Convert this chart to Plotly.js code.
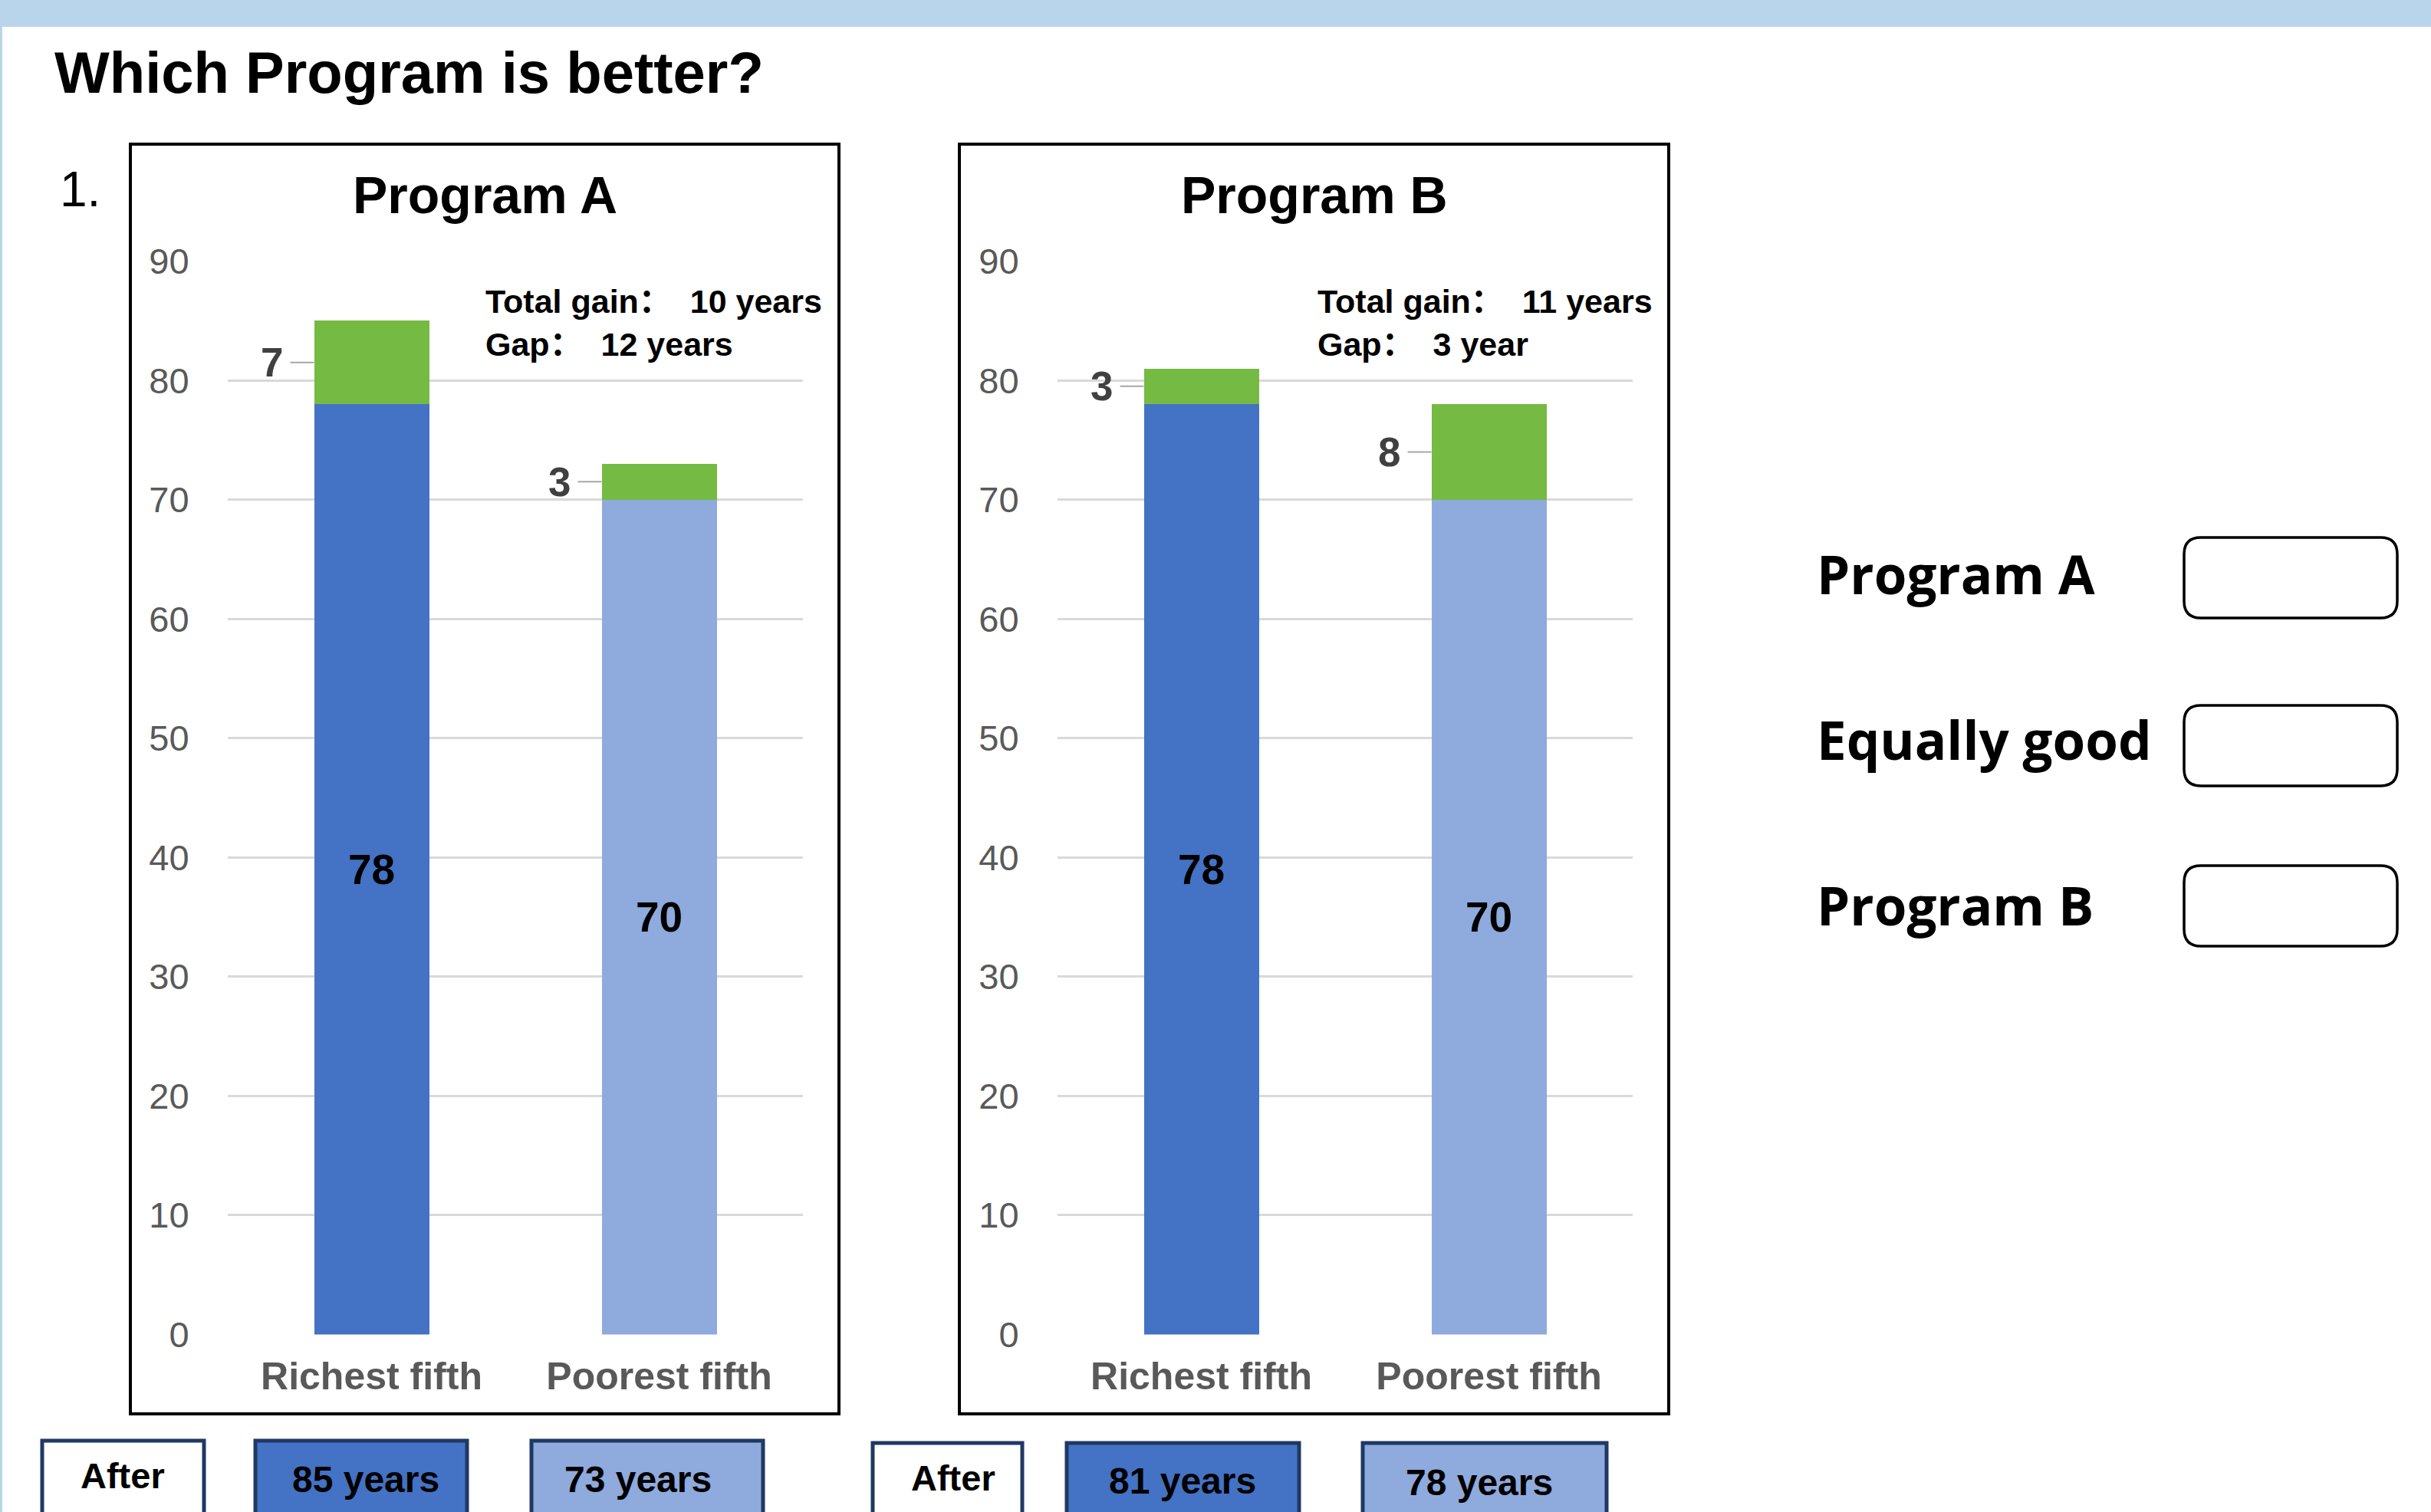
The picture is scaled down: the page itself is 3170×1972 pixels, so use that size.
<!DOCTYPE html>
<html>
<head>
<meta charset="utf-8">
<script src="https://cdn.plot.ly/plotly-3.0.1.min.js"></script>
<style>
  html, body { margin: 0; padding: 0; background: #ffffff; }
  #chart { width: 3170px; height: 1972px; }
</style>
</head>
<body>
<div id="chart"></div>
<script>
// ---------------- DATA ----------------
const categories = ["Richest fifth", "Poorest fifth"];
const programNames = ["Program A", "Program B"];
const progA_before = [78, 70];
const progA_gain = [7, 3];
const progB_before = [78, 70];
const progB_gain = [3, 8];
const progA_after = ["85 years", "73 years"];
const progB_after = ["81 years", "78 years"];
const progA_summary = ["Total gain：\u00a0\u00a010 years", "Gap：\u00a0\u00a012 years"];
const progB_summary = ["Total gain：\u00a0\u00a011 years", "Gap：\u00a0\u00a03 year"];
const choices = ["Program A", "Equally good", "Program B"];
const yTicks = [0, 10, 20, 30, 40, 50, 60, 70, 80, 90];

// ---------------- STYLE ----------------
const W = 3170, H = 1972;
const X = p => p / W;
const Y = p => 1 - p / H;
const DARK = "#4472C4", LIGHT = "#8FAADC", GREEN = "#75BA43";
const NAVY = "#1F3864";
const ARIAL = "Liberation Sans, Arial, Noto Sans CJK SC, sans-serif";
const SEGOE = "Open Sans, Noto Sans, sans-serif";

function barTraces(before, gain, xa, ya) {
  return [
    {
      type: "bar", x: categories, y: before, xaxis: xa, yaxis: ya,
      marker: { color: [DARK, LIGHT], line: { width: 0 } },
      text: before.map(String), textposition: "inside", insidetextanchor: "middle",
      textangle: 0, constraintext: "none",
      textfont: { family: ARIAL, size: 55, color: "#000000", weight: "bold" },
      hoverinfo: "none"
    },
    {
      type: "bar", x: categories, y: gain, xaxis: xa, yaxis: ya,
      marker: { color: GREEN, line: { width: 0 } },
      hoverinfo: "none"
    }
  ];
}

const data = [
  ...barTraces(progA_before, progA_gain, "x", "y"),
  ...barTraces(progB_before, progB_gain, "x2", "y2")
];

const yDomain = [Y(1740.5), Y(340.5)];
function yAxis() {
  return {
    domain: yDomain, range: [0, 90], tickvals: yTicks, ticktext: yTicks.map(String),
    showgrid: true, gridcolor: "#D9D9D9", gridwidth: 3, zeroline: false, showline: false,
    ticks: "outside", ticklen: 40, tickcolor: "rgba(0,0,0,0)",
    tickfont: { family: ARIAL, size: 47, color: "#595959" }, fixedrange: true
  };
}
function xAxis(d0, d1, anchor) {
  return {
    domain: [X(d0), X(d1)], anchor: anchor, type: "category",
    showgrid: false, zeroline: false, showline: false,
    ticks: "outside", ticklen: 10, tickcolor: "rgba(0,0,0,0)",
    tickfont: { family: ARIAL, size: 50, color: "#595959", weight: "bold" }, fixedrange: true
  };
}

// ---------------- SHAPES ----------------
function roundRect(x0, y0, x1, y1, r) {
  const rx = r, ry = r;
  return `M ${X(x0 + rx)} ${Y(y0)} L ${X(x1 - rx)} ${Y(y0)} Q ${X(x1)} ${Y(y0)} ${X(x1)} ${Y(y0 + ry)} ` +
         `L ${X(x1)} ${Y(y1 - ry)} Q ${X(x1)} ${Y(y1)} ${X(x1 - rx)} ${Y(y1)} ` +
         `L ${X(x0 + rx)} ${Y(y1)} Q ${X(x0)} ${Y(y1)} ${X(x0)} ${Y(y1 - ry)} ` +
         `L ${X(x0)} ${Y(y0 + ry)} Q ${X(x0)} ${Y(y0)} ${X(x0 + rx)} ${Y(y0)} Z`;
}
function pxRect(x0, y0, x1, y1, fill, lineColor, lineWidth) {
  return {
    type: "rect", xref: "paper", yref: "paper",
    x0: X(x0), x1: X(x1), y0: Y(y1), y1: Y(y0),
    fillcolor: fill, line: { color: lineColor, width: lineWidth }, layer: "above"
  };
}

const shapes = [
  pxRect(0, 0, W, 35, "#B9D5EC", "rgba(0,0,0,0)", 0),
  pxRect(0, 0, 3, H, "#B9D5EC", "rgba(0,0,0,0)", 0),
  { ...pxRect(170, 188, 1094, 1844, "rgba(0,0,0,0)", "#000000", 4), layer: "below" },
  { ...pxRect(1251, 188, 2176, 1844, "rgba(0,0,0,0)", "#000000", 4), layer: "below" },
  // bottom "After" boxes
  pxRect(55, 1879, 266, 2000, "#FFFFFF", NAVY, 5),
  pxRect(333, 1879, 609, 2000, DARK, NAVY, 5),
  pxRect(693, 1879, 995, 2000, LIGHT, NAVY, 5),
  pxRect(1138, 1882, 1333, 2000, "#FFFFFF", NAVY, 5),
  pxRect(1391, 1882, 1694, 2000, DARK, NAVY, 5),
  pxRect(1777, 1882, 2095, 2000, LIGHT, NAVY, 5)
];
const answerBoxes = [[701, 806], [920, 1025], [1129, 1234]];
answerBoxes.forEach(([t, b]) => {
  shapes.push({
    type: "path", xref: "paper", yref: "paper",
    path: roundRect(2848, t, 3126, b, 22),
    line: { color: "#000000", width: 3.5 }, fillcolor: "rgba(0,0,0,0)"
  });
});

// ---------------- ANNOTATIONS ----------------
const annotations = [];
function txt(text, x, y, size, opts) {
  annotations.push(Object.assign({
    xref: "paper", yref: "paper", x: X(x), y: Y(y), text: text, showarrow: false,
    xanchor: "center", yanchor: "middle",
    font: { family: ARIAL, size: size, color: "#000000", weight: "bold" }
  }, opts || {}));
}
txt("Which Program is better?", 69, 95, 76, { xanchor: "left" });
txt("1.", 76, 247, 64, { xanchor: "left", font: { family: ARIAL, size: 64, color: "#000000", weight: "normal" } });
txt(programNames[0], 632, 254, 68);
txt(programNames[1], 1714, 254, 68);
txt(progA_summary.join("<br>"), 631, 421, 43, { xanchor: "left", align: "left" });
txt(progB_summary.join("<br>"), 1716, 421, 43, { xanchor: "left", align: "left" });

// segment (gain) labels with leader lines
function gainLabels(before, gain, xa, ya) {
  gain.forEach((g, i) => {
    annotations.push({
      xref: xa, yref: ya, x: i - 0.2, y: before[i] + g / 2, text: String(g),
      showarrow: true, arrowhead: 0, arrowwidth: 2, arrowcolor: "#A6A6A6",
      ax: -55, ay: 0, borderpad: 9,
      font: { family: ARIAL, size: 53, color: "#404040", weight: "bold" }
    });
  });
}
gainLabels(progA_before, progA_gain, "x", "y");
gainLabels(progB_before, progB_gain, "x2", "y2");

// bottom "After" row
txt("After", 160, 1924, 47);
txt(progA_after[0], 477, 1929, 48);
txt(progA_after[1], 832, 1929, 48);
txt("After", 1243, 1927, 47);
txt(progB_after[0], 1542, 1931, 48);
txt(progB_after[1], 1929, 1933, 48);

// right-hand choices
const choiceY = [748, 964, 1180];
choices.forEach((c, i) => {
  txt(c, 2367, choiceY[i], 69, { xanchor: "left", font: { family: SEGOE, size: 69, color: "#000000", weight: "bold" } });
});

const layout = {
  width: W, height: H,
  margin: { l: 0, r: 0, t: 0, b: 0, pad: 0 },
  paper_bgcolor: "#FFFFFF", plot_bgcolor: "rgba(0,0,0,0)",
  showlegend: false, barmode: "stack", bargap: 0.6,
  xaxis: xAxis(297, 1047, "y"),
  yaxis: Object.assign(yAxis(), { anchor: "x" }),
  xaxis2: xAxis(1379, 2129, "y2"),
  yaxis2: Object.assign(yAxis(), { anchor: "x2" }),
  shapes: shapes,
  annotations: annotations,
  font: { family: ARIAL }
};

Plotly.newPlot("chart", data, layout, { staticPlot: true, displayModeBar: false });
</script>
</body>
</html>
